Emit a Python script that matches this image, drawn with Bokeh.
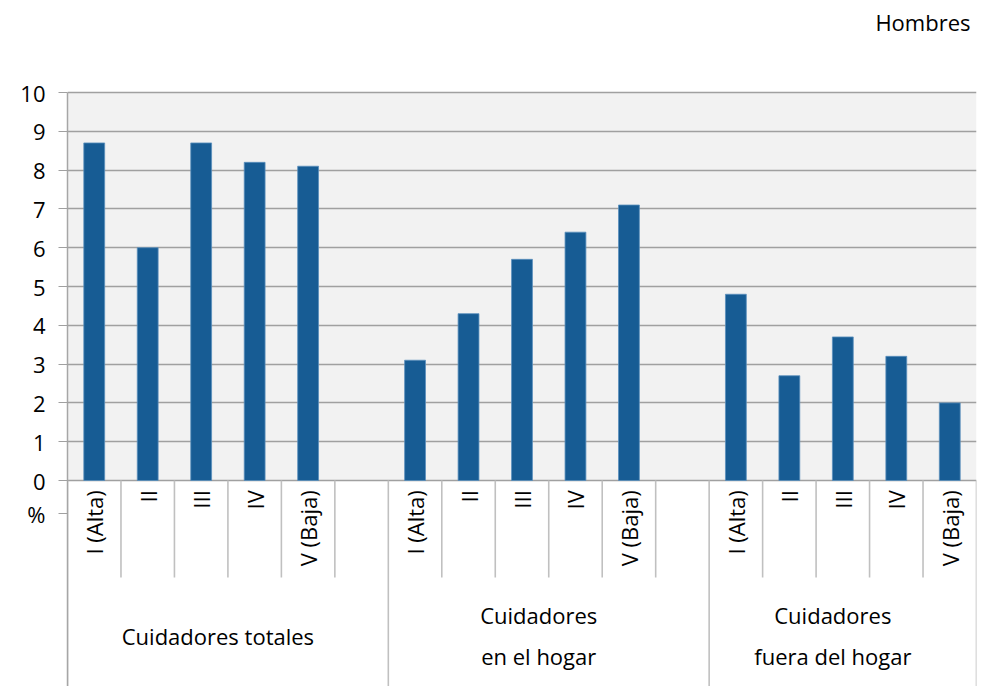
import math
from bokeh.plotting import figure
from bokeh.models import Range1d, FixedTicker, ColumnDataSource
from bokeh.core.properties import value
from bokeh.embed import file_html
from bokeh.resources import INLINE

# ---- data ----
quintiles = ["I (Alta)", "II", "III", "IV", "V (Baja)"]
group_labels = ["Cuidadores totales", "Cuidadores\nen el hogar", "Cuidadores\nfuera del hogar"]
group_has_gap = [True, True, False]
totales = [8.7, 6.0, 8.7, 8.2, 8.1]
en_hogar = [3.1, 4.3, 5.7, 6.4, 7.1]
fuera_hogar = [4.8, 2.7, 3.7, 3.2, 2.0]
y_ticks = [0, 1, 2, 3, 4, 5, 6, 7, 8, 9, 10]
title_text = "Hombres"
unit_text = "%"

series = [totales, en_hogar, fuera_hogar]

# ---- layout geometry (pixels) ----
W, H = 984, 686
left_b, right_b = 67, 8
plot_top_px = 92          # pixel row of the value 10
plot_h = 388              # pixels for 0..10
y_max = 10
px_per_unit = plot_h / y_max
y_top = y_max + plot_top_px / px_per_unit
y_min = y_max - (H - plot_top_px) / px_per_unit
unit_pos = -33 / px_per_unit       # where the "%" sits, below the zero line
title_y = y_max + (plot_top_px - 21) / px_per_unit

FONT = value("Open Sans")

# ---- build category positions ----
bar_x, bar_top, cat_x, cat_txt = [], [], [], []
short_sep, long_sep, grp_center = [], [0], []
pos = 0
for g, vals in enumerate(series):
    start = pos
    for q, v in zip(quintiles, vals):
        bar_x.append(pos + 0.5)
        bar_top.append(v)
        cat_x.append(pos + 0.5)
        cat_txt.append(q)
        pos += 1
        short_sep.append(pos)
    if group_has_gap[g]:
        pos += 1
        short_sep.append(pos)
    short_sep.pop()
    long_sep.append(pos)
    grp_center.append((start + pos) / 2)
n_cats = pos

p = figure(width=W, height=H, output_backend="svg", toolbar_location=None,
           x_range=Range1d(0, n_cats), y_range=Range1d(y_min, y_top),
           x_axis_type=None, min_border_left=left_b, min_border_right=right_b,
           min_border_top=0, min_border_bottom=0)
p.outline_line_color = None
p.background_fill_color = "white"
p.border_fill_color = "white"
p.xgrid.visible = False

# plot-area background
p.quad(left=[0], right=[n_cats], bottom=[0], top=[y_max], fill_color="#f2f2f2",
       line_color=None, level="image")

p.ygrid.ticker = FixedTicker(ticks=y_ticks)
p.ygrid.grid_line_color = "#a0a0a0"
p.ygrid.grid_line_width = 1.3

ax = p.yaxis[0]
ax.bounds = (y_min, y_max)
ax.ticker = FixedTicker(ticks=y_ticks + [unit_pos])
ax.major_label_overrides = {unit_pos: unit_text}
ax.axis_line_color = "#a6a6a6"
ax.axis_line_width = 1.5
ax.major_tick_line_color = "#a0a0a0"
ax.major_tick_out = 9
ax.major_tick_in = 0
ax.minor_tick_line_color = None
ax.major_label_standoff = 13
ax.major_label_text_font = "Open Sans"
ax.major_label_text_font_size = "22px"
ax.major_label_text_color = "#000000"

# bars
src = ColumnDataSource(dict(x=bar_x, top=bar_top))
p.vbar(x="x", top="top", bottom=0, width=0.39, source=src,
       fill_color="#175c94", line_color="#5b8fbd", line_width=0.8)

# separators
p.segment(x0=short_sep, y0=[0] * len(short_sep), x1=short_sep, y1=[-2.5] * len(short_sep),
          line_color="#c0c0c0", line_width=1.6)
p.segment(x0=long_sep, y0=[0] * len(long_sep), x1=long_sep, y1=[y_min] * len(long_sep),
          line_color="#c0c0c0", line_width=1.6)

# category labels (rotated)
p.text(x=cat_x, y=[-0.25] * len(cat_x), text=cat_txt, angle=math.pi / 2,
       text_align="right", text_baseline="middle", text_font=FONT,
       text_font_size="22px", text_color="#000000")

# group labels
p.text(x=grp_center, y=[-4.0] * len(grp_center), text=group_labels,
       text_align="center", text_baseline="middle", text_font=FONT,
       text_font_size="22px", text_color="#000000", text_line_height=1.35,
       x_offset=-10)

# title "Hombres"
p.text(x=[n_cats], y=[title_y], text=[title_text], text_align="right",
       text_baseline="middle", text_font=FONT, text_font_size="22px",
       text_color="#000000", x_offset=-6)

open("out.html", "w").write(file_html(p, INLINE))
